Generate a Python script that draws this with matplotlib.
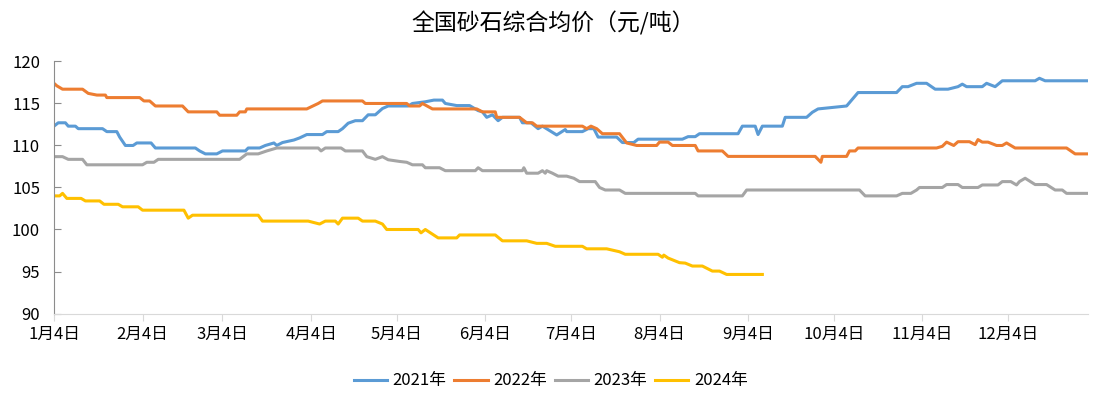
import matplotlib
matplotlib.use("Agg")
import matplotlib.pyplot as plt

plt.rcParams['font.family'] = ['Noto Sans CJK SC', 'DejaVu Sans']

# 横轴：自1月4日起的天数；纵轴：价格（元/吨）
tick_days = [0, 31, 59, 90, 120, 151, 181, 212, 243, 273, 304, 334]
tick_labels = ['1月4日', '2月4日', '3月4日', '4月4日', '5月4日', '6月4日',
               '7月4日', '8月4日', '9月4日', '10月4日', '11月4日', '12月4日']

x_2021 = [0, 1.5, 4, 5, 7.5, 8.5, 17, 18.5, 22, 23, 25, 27.7, 29, 34, 35.5, 49.5, 51, 53, 57,
          59, 67, 68, 72, 74, 77, 78, 80, 84, 86, 88.5, 94, 95.5, 99.5, 101, 103, 105.5, 108,
          110, 112.5, 115, 117, 124, 125.5, 130, 133, 136, 137, 141, 145.5, 148.5, 150,
          151.5, 153.5, 155.5, 157, 163, 164, 167, 169.5, 171, 176, 179, 179.5, 185, 187,
          189, 190.5, 197, 199, 203, 204.5, 220, 222, 224.5, 226, 239.5, 241, 245.5, 246.5,
          248, 255, 256, 263.5, 265.5, 267.5, 277.5, 281.5, 295, 297, 299, 302, 305.5,
          308.5, 313, 316.5, 318, 319.5, 325, 326.5, 329.5, 332, 343.5, 345, 347, 362]
y_2021 = [112.3, 112.7, 112.7, 112.3, 112.3, 112.0, 112.0, 111.65, 111.65, 111.0, 110.0, 110.0,
          110.3, 110.3, 109.7, 109.7, 109.35, 109.0, 109.0, 109.35, 109.35, 109.7, 109.7, 110.0,
          110.3, 110.0, 110.35, 110.65, 110.9, 111.3, 111.3, 111.65, 111.65, 112.0, 112.65,
          112.95, 112.95, 113.65, 113.65, 114.4, 114.7, 114.7, 115.0, 115.2, 115.4, 115.4, 115.0,
          114.75, 114.75, 114.15, 114.0, 113.35, 113.65, 112.95, 113.35, 113.35, 112.7, 112.7,
          112.0, 112.3, 111.25, 111.9, 111.65, 111.65, 112.0, 112.0, 111.0, 111.0, 110.35,
          110.35, 110.75, 110.75, 111.05, 111.05, 111.4, 111.4, 112.3, 112.3, 111.3, 112.3,
          112.3, 113.35, 113.35, 113.95, 114.35, 114.7, 116.3, 116.3, 117.0, 117.0, 117.4,
          117.4, 116.7, 116.7, 117.0, 117.3, 117.0, 117.0, 117.4, 117.0, 117.7, 117.7, 118.0,
          117.7, 117.7]

x_2022 = [0, 1, 3, 10, 12, 15, 18, 18.5, 30, 31.5, 33.5, 35.5, 45, 47, 57, 58, 64, 65, 67,
          67.5, 88.5, 92.5, 94, 108, 109, 123.5, 124.5, 128, 129, 132.5, 148, 150, 154.5, 155,
          163, 165.5, 167.5, 169, 185, 186.5, 188, 190, 192, 198, 200.5, 204, 211, 212, 215,
          216.5, 224.5, 225.5, 234, 236, 266.5, 268.5, 269, 277.5, 278.5, 280.5, 281.5, 309,
          311, 312.5, 315, 316.5, 320.5, 322.5, 323.5, 325, 327, 330, 332, 333.5, 336.5,
          354.5, 357.5, 362]
y_2022 = [117.4, 117.1, 116.7, 116.7, 116.2, 116.0, 116.0, 115.7, 115.7, 115.3, 115.3, 114.7,
          114.7, 114.0, 114.0, 113.6, 113.6, 114.0, 114.0, 114.35, 114.35, 115.0, 115.3, 115.3,
          115.0, 115.0, 114.7, 114.7, 115.0, 114.35, 114.35, 114.0, 114.0, 113.35, 113.35,
          112.7, 112.7, 112.3, 112.3, 112.0, 112.3, 112.0, 111.4, 111.4, 110.3, 110.0, 110.0,
          110.4, 110.4, 110.0, 110.0, 109.35, 109.35, 108.7, 108.7, 108.0, 108.7, 108.7,
          109.35, 109.35, 109.7, 109.7, 109.9, 110.4, 110.0, 110.45, 110.45, 110.1, 110.7,
          110.4, 110.4, 110.0, 110.0, 110.3, 109.7, 109.7, 109.0, 109.0]

x_2023 = [0, 3, 5, 10, 11.5, 31, 32.5, 35, 36.5, 65, 67.5, 71.5, 74.5, 78, 92.5, 93.5, 95,
          100.5, 102, 108, 109.5, 112.5, 115, 117, 121, 123.5, 125.5, 129, 130, 135, 137,
          147.5, 148.5, 150, 164, 164.5, 165.5, 169.5, 171, 172, 172.5, 174.5, 176.5, 179.5,
          182, 184, 189.5, 191, 193, 198, 200, 224.5, 225.5, 241, 242.5, 282, 284, 295, 297,
          300, 302, 303, 311, 312.5, 316.5, 318, 323.5, 325, 330.5, 332, 335, 337, 338, 340,
          343.5, 347.5, 350.5, 353, 354.5, 362]
y_2023 = [108.67, 108.67, 108.35, 108.35, 107.7, 107.7, 108.0, 108.0, 108.35, 108.35, 109.0,
          109.0, 109.35, 109.7, 109.7, 109.35, 109.7, 109.7, 109.35, 109.35, 108.67, 108.35,
          108.67, 108.3, 108.1, 108.0, 107.7, 107.7, 107.35, 107.35, 107.0, 107.0, 107.35,
          107.0, 107.0, 107.35, 106.7, 106.7, 107.0, 106.7, 107.0, 106.7, 106.35, 106.35,
          106.1, 105.7, 105.7, 105.0, 104.7, 104.7, 104.3, 104.3, 104.0, 104.0, 104.7, 104.7,
          104.0, 104.0, 104.3, 104.3, 104.7, 105.0, 105.0, 105.35, 105.35, 105.0, 105.0,
          105.3, 105.3, 105.7, 105.7, 105.3, 105.7, 106.1, 105.35, 105.35, 104.7, 104.7,
          104.3, 104.3]

x_2024 = [0, 2, 3, 4.5, 9.5, 11, 16, 17.5, 22.5, 24, 29.5, 31, 45.5, 47, 48.5, 71.5, 73, 89,
          93, 95, 98.5, 99.5, 101, 106.5, 108, 112.5, 115, 116.5, 127.5, 128.5, 130, 134.5,
          141, 142, 154.5, 157, 165.5, 169, 172.5, 175.5, 185, 186.5, 193.5, 198, 200, 211.5,
          213, 213.5, 215, 219, 221, 223.5, 227, 230.5, 233, 235.5, 248]
y_2024 = [104.0, 104.0, 104.3, 103.7, 103.7, 103.4, 103.4, 103.0, 103.0, 102.7, 102.7, 102.3,
          102.3, 101.35, 101.7, 101.7, 101.0, 101.0, 100.65, 101.0, 101.0, 100.65, 101.35,
          101.35, 101.0, 101.0, 100.65, 100.0, 100.0, 99.6, 100.0, 99.0, 99.0, 99.35, 99.35,
          98.65, 98.65, 98.35, 98.35, 98.0, 98.0, 97.7, 97.7, 97.35, 97.05, 97.05, 96.7,
          96.95, 96.6, 96.05, 96.0, 95.65, 95.65, 95.05, 95.05, 94.65, 94.65]

series = [('2021年', x_2021, y_2021, '#5B9BD5'),
          ('2022年', x_2022, y_2022, '#ED7D31'),
          ('2023年', x_2023, y_2023, '#A5A5A5'),
          ('2024年', x_2024, y_2024, '#FFC000')]

fig = plt.figure(figsize=(11.06, 4.07), dpi=100)
ax = fig.add_axes([0.0488, 0.2297, 0.9349, 0.6193])

for name, xs, ys, col in series:
    ax.plot(xs, ys, color=col, linewidth=2.2, label=name, solid_joinstyle='round')

ax.set_xlim(0, 362)
ax.set_ylim(90, 120)
ax.set_yticks([90, 95, 100, 105, 110, 115, 120])
ax.set_xticks(tick_days)
ax.set_xticklabels(tick_labels)

for s in ['top', 'right']:
    ax.spines[s].set_visible(False)
ax.spines['left'].set_color('#8c8c8c')
ax.spines['bottom'].set_color('#d9d9d9')
ax.tick_params(axis='y', direction='in', length=5, color='#8c8c8c', labelsize=12, pad=10)
ax.tick_params(axis='x', direction='out', length=5, color='#d9d9d9', labelsize=12, pad=4)

fig.text(0.5, 0.943, '全国砂石综合均价（元/吨）', ha='center', va='center', fontsize=16.5)
fig.legend(loc='center', bbox_to_anchor=(0.498, 0.064), ncol=4, frameon=False,
           fontsize=12, handlelength=2.0, columnspacing=0.45, handletextpad=0.35)

fig.savefig('out.png', dpi=100)
